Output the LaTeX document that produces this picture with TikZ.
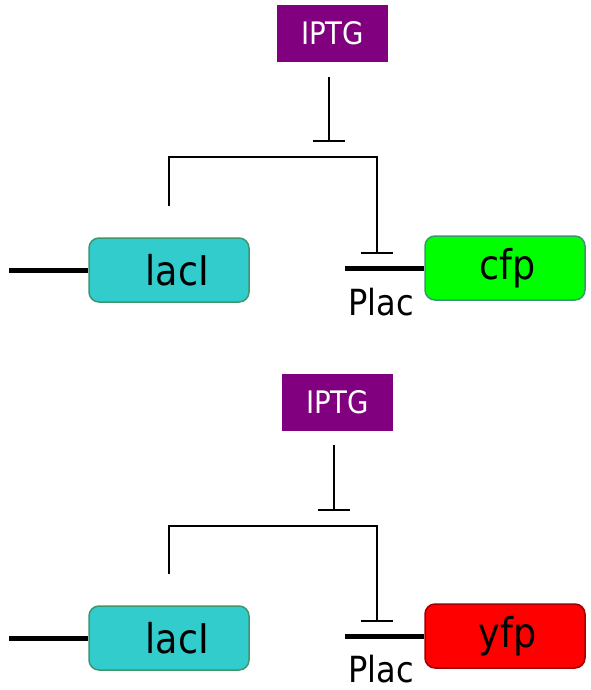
\documentclass[tikz,border=0pt]{standalone}
\usepackage{fontspec}
\setmainfont{DejaVu Sans}[FakeStretch=0.89]
\definecolor{iptgc}{RGB}{128,0,128}
\definecolor{lacic}{RGB}{51,204,204}
\definecolor{gborder}{RGB}{60,150,110}
\definecolor{cfpc}{RGB}{0,255,0}
\definecolor{yfpc}{RGB}{255,0,0}
\definecolor{yborder}{RGB}{160,0,0}
\tikzset{
  iptgbox/.style={fill=iptgc, text=white, minimum width=111pt, minimum height=57pt, inner sep=0pt, font=\fontsize{31}{31}\selectfont},
  genebox/.style={draw=gborder, line width=1.5pt, rounded corners=10pt, minimum width=160pt, minimum height=64pt, inner sep=0pt, font=\fontsize{41}{41}\selectfont},
  thinline/.style={line width=1.6pt},
  thickline/.style={line width=5pt},
  plactext/.style={anchor=base, inner sep=0pt, font=\fontsize{36}{36}\selectfont},
}
\begin{document}
\begin{tikzpicture}[x=1pt,y=-1pt]
\useasboundingbox (0,0) rectangle (590,690);
% ---------- top ----------
\node[iptgbox] (iptg1) at (332.5,33.5) {IPTG};
\coordinate (v1a) at (329,77);
\coordinate (v1b) at (329,141);
\draw[thinline] (v1a) -- (v1b);
\draw[thinline] ([xshift=-16pt]v1b) -- ([xshift=16pt]v1b);
\coordinate (b1l) at (169,206);
\coordinate (b1r) at (377,253);
\draw[thinline] (b1l) |- (377,157) -- (b1r);
\draw[thinline] ([xshift=-16pt]b1r) -- ([xshift=16pt]b1r);
\node[genebox, fill=lacic] (laci1) at (169,270) {\hspace{17pt}lacI};
\coordinate (l1) at (9,270);
\draw[thickline] (l1) -- (laci1.west);
\node[genebox, fill=cfpc] (cfp) at (505,268) {\hspace{5pt}cfp};
\coordinate (p1) at (345,268);
\draw[thickline] (p1) -- (cfp.west);
\node[plactext] (plac1) at (381,315) {Plac};
% ---------- bottom ----------
\node[iptgbox] (iptg2) at (337.5,402) {IPTG};
\coordinate (v2a) at (334,445);
\coordinate (v2b) at (334,510);
\draw[thinline] (v2a) -- (v2b);
\draw[thinline] ([xshift=-16pt]v2b) -- ([xshift=16pt]v2b);
\coordinate (b2l) at (169,574);
\coordinate (b2r) at (377,621);
\draw[thinline] (b2l) |- (377,526) -- (b2r);
\draw[thinline] ([xshift=-16pt]b2r) -- ([xshift=16pt]b2r);
\node[genebox, fill=lacic] (laci2) at (169,638) {\hspace{17pt}lacI};
\coordinate (l2) at (9,638);
\draw[thickline] (l2) -- (laci2.west);
\node[genebox, fill=yfpc, draw=yborder] (yfp) at (505,636) {\hspace{5pt}yfp};
\coordinate (p2) at (345,636);
\draw[thickline] (p2) -- (yfp.west);
\node[plactext] (plac2) at (381,682) {Plac};
\end{tikzpicture}
\end{document}
